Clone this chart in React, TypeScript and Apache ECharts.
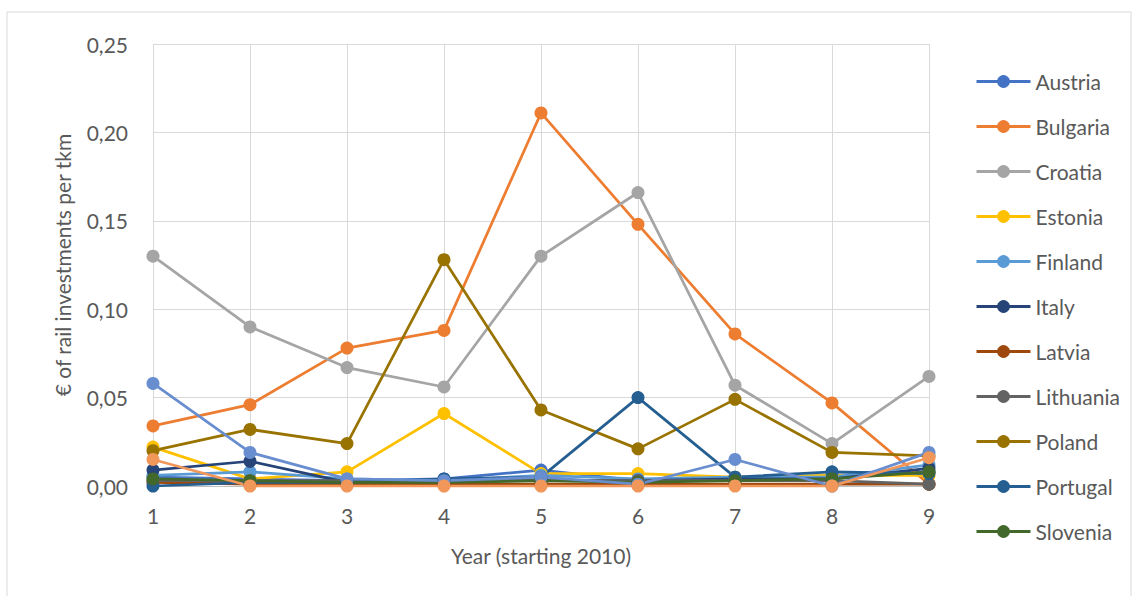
import React, { useEffect, useRef } from "react";
import * as echarts from "echarts";

const years = ["1", "2", "3", "4", "5", "6", "7", "8", "9"];
const yTicks = [0, 0.05, 0.1, 0.15, 0.2, 0.25];

const austria = [0.005, 0.004, 0.003, 0.004, 0.009, 0.003, 0.004, 0.006, 0.008];
const bulgaria = [0.034, 0.046, 0.078, 0.088, 0.211, 0.148, 0.086, 0.047, 0.001];
const croatia = [0.13, 0.09, 0.067, 0.056, 0.13, 0.166, 0.057, 0.024, 0.062];
const estonia = [0.022, 0.004, 0.008, 0.041, 0.007, 0.007, 0.005, 0.006, 0.006];
const finland = [0.006, 0.008, 0.004, 0.003, 0.006, 0.004, 0.005, 0.005, 0.012];
const italy = [0.009, 0.014, 0.002, 0.003, 0.003, 0.003, 0.004, 0.004, 0.01];
const latvia = [0.002, 0.001, 0.001, 0.001, 0.001, 0.001, 0.001, 0.001, 0.001];
const lithuania = [0.003, 0.003, 0.003, 0.003, 0.003, 0.003, 0.003, 0.003, 0.001];
const poland = [0.02, 0.032, 0.024, 0.128, 0.043, 0.021, 0.049, 0.019, 0.017];
const portugal = [0.0, 0.002, 0.002, 0.004, 0.005, 0.05, 0.005, 0.008, 0.007];
const slovenia = [0.004, 0.003, 0.002, 0.002, 0.003, 0.002, 0.003, 0.004, 0.008];
const spain = [0.058, 0.019, 0.004, 0.003, 0.005, 0.001, 0.015, 0.0, 0.019];
const sweden = [0.015, 0.0, 0.0, 0.0, 0.0, 0.0, 0.0, 0.0, 0.016];

const seriesNames = [
  "Austria", "Bulgaria", "Croatia", "Estonia", "Finland", "Italy",
  "Latvia", "Lithuania", "Poland", "Portugal", "Slovenia", "Spain", "Sweden",
];
const seriesData = [
  austria, bulgaria, croatia, estonia, finland, italy,
  latvia, lithuania, poland, portugal, slovenia, spain, sweden,
];
const colors = [
  "#4472C4", "#ED7D31", "#A5A5A5", "#FFC000", "#5B9BD5", "#264478",
  "#9E480E", "#636363", "#997300", "#255E91", "#43682B", "#698ED0", "#F1975A",
];
const legendNames = seriesNames.slice(0, 11);

export default function App() {
  const ref = useRef<HTMLDivElement>(null);
  useEffect(() => {
    if (!ref.current) return;
    const chart = echarts.init(ref.current, null, { renderer: "svg" });
    const font = "Lato, 'Open Sans', sans-serif";
    chart.setOption({
      animation: false,
      textStyle: { fontFamily: font },
      color: colors,
      graphic: [
        {
          type: "rect",
          shape: { x: 7, y: 12, width: 1124, height: 600 },
          style: { fill: "none", stroke: "#D9D9D9", lineWidth: 1 },
          silent: true,
        },
      ],
      grid: { left: 153, right: 208, top: 44, bottom: 110, containLabel: false },
      legend: {
        data: legendNames,
        orient: "vertical",
        left: 975,
        top: 71,
        padding: 0,
        itemWidth: 54,
        itemHeight: 16,
        itemGap: 24,
        lineStyle: { width: 3 },
        textStyle: { color: "#595959", fontSize: 21, fontFamily: font },
      },
      xAxis: {
        type: "category",
        data: years,
        boundaryGap: false,
        name: "Year (starting 2010)",
        nameLocation: "middle",
        nameGap: 59,
        nameTextStyle: { color: "#595959", fontSize: 21, fontFamily: font },
        axisLine: { lineStyle: { color: "#BFBFBF", width: 1 } },
        axisTick: { show: false },
        axisLabel: { color: "#595959", fontSize: 21, margin: 19, fontFamily: font },
        splitLine: { show: true, lineStyle: { color: "#D9D9D9", width: 1 } },
      },
      yAxis: {
        type: "value",
        min: yTicks[0],
        max: yTicks[yTicks.length - 1],
        interval: 0.05,
        name: "€ of rail investments per tkm",
        nameLocation: "middle",
        nameGap: 80,
        nameTextStyle: { color: "#595959", fontSize: 21, fontFamily: font },
        axisLine: { show: false },
        axisTick: { show: false },
        axisLabel: {
          color: "#595959",
          fontSize: 21,
          margin: 25,
          fontFamily: font,
          formatter: (v: number) => v.toFixed(2).replace(".", ","),
        },
        splitLine: { show: true, lineStyle: { color: "#D9D9D9", width: 1 } },
      },
      series: seriesNames.map((name, i) => ({
        name,
        type: "line",
        data: seriesData[i],
        symbol: "circle",
        symbolSize: 13,
        lineStyle: { width: 2.75, color: colors[i] },
        itemStyle: { color: colors[i] },
      })),
    });
    return () => chart.dispose();
  }, []);
  return (
    <div
      ref={ref}
      style={{ position: "fixed", left: 0, top: 0, width: 1137, height: 596, background: "#fff" }}
    />
  );
}
